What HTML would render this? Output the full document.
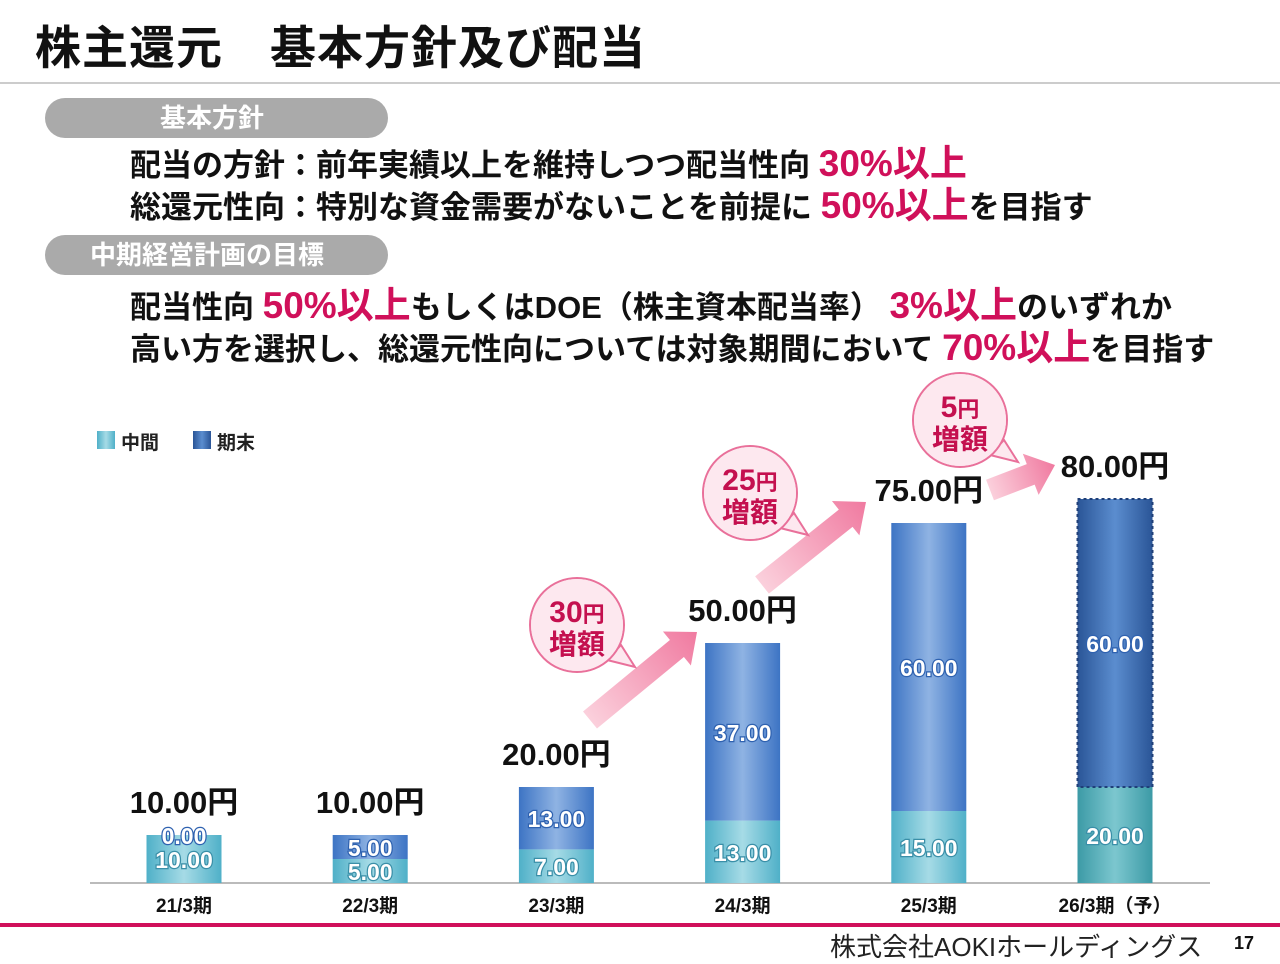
<!DOCTYPE html>
<html><head><meta charset="utf-8"><style>
body{margin:0;width:1280px;height:960px;background:#fff;position:relative;overflow:hidden;font-family:"Liberation Sans","Noto Sans CJK JP",sans-serif;}
.abs{position:absolute;white-space:nowrap}
.t{font-weight:bold;color:#111}
.pk{color:#d0105a}
.pill{position:absolute;left:45px;width:343px;height:40px;border-radius:20px;background:#aaa;color:#fff;font-weight:bold;font-size:26px;line-height:40px}
</style></head><body>
<div class="abs t" style="left:35px;top:12px;font-size:46px;letter-spacing:1px">株主還元　基本方針及び配当</div>
<div class="abs" style="left:0;top:82px;width:1280px;height:2px;background:#ccc"></div>
<div class="pill" style="top:98px;padding-left:115px;box-sizing:border-box">基本方針</div>
<div class="abs t" style="left:130px;top:133px;font-size:31px">配当の方針：前年実績以上を維持しつつ配当性向 <span class="pk" style="font-size:37px">30%以上</span></div>
<div class="abs t" style="left:130px;top:175px;font-size:31px">総還元性向：特別な資金需要がないことを前提に <span class="pk" style="font-size:37px">50%以上</span>を目指す</div>
<div class="pill" style="top:235px;padding-left:45px;box-sizing:border-box">中期経営計画の目標</div>
<div class="abs t" style="left:130px;top:275px;font-size:31px">配当性向 <span class="pk" style="font-size:37px">50%以上</span>もしくはDOE（株主資本配当率） <span class="pk" style="font-size:37px">3%以上</span>のいずれか</div>
<div class="abs t" style="left:130px;top:317px;font-size:31px">高い方を選択し、総還元性向については対象期間において <span class="pk" style="font-size:37px">70%以上</span>を目指す</div>

<svg class="abs" style="left:0;top:0" width="1280" height="960" id="chart">
<defs>
<linearGradient id="gI" x1="0" x2="1"><stop offset="0" stop-color="#4fb0c8"/><stop offset=".5" stop-color="#a6dbe6"/><stop offset="1" stop-color="#4fb0c8"/></linearGradient>
<linearGradient id="gE" x1="0" x2="1"><stop offset="0" stop-color="#3d74c4"/><stop offset=".5" stop-color="#8fb3e3"/><stop offset="1" stop-color="#3d74c4"/></linearGradient>
<linearGradient id="gF" x1="0" x2="1"><stop offset="0" stop-color="#2a5597"/><stop offset=".5" stop-color="#5b8dcf"/><stop offset="1" stop-color="#2a5597"/></linearGradient>
<linearGradient id="gFI" x1="0" x2="1"><stop offset="0" stop-color="#3c9aa6"/><stop offset=".5" stop-color="#7cc7cf"/><stop offset="1" stop-color="#3c9aa6"/></linearGradient>
<linearGradient id="gA" x1="0" x2="1"><stop offset="0" stop-color="#fbd0dc"/><stop offset="1" stop-color="#f07aa0"/></linearGradient>
</defs>
</svg>
<div class="abs" style="left:0;top:923px;width:1280px;height:4px;background:#d0105a"></div>
<div class="abs" style="left:830px;top:927px;font-size:26px;color:#222">株式会社AOKIホールディングス</div>
<div class="abs t" style="left:1234px;top:933px;font-size:18px">17</div>
<script>
const categories=["21/3期","22/3期","23/3期","24/3期","25/3期","26/3期（予）"];
const interim=[10,5,7,13,15,20];
const yearEnd=[0,5,13,37,60,60];
const totals=["10.00円","10.00円","20.00円","50.00円","75.00円","80.00円"];
const increases=[null,null,"30","25","5"];
const NS="http://www.w3.org/2000/svg";
const svg=document.getElementById('chart');
const base=883,scale=4.8,x0=184,step=186.2,bw=75;
const X=i=>x0+i*step, Y=v=>base-v*scale;
function el(t,a,p){const e=document.createElementNS(NS,t);for(const k in a)e.setAttribute(k,a[k]);(p||svg).appendChild(e);return e;}
function txt(x,y,s,size,fill,extra){const e=el('text',Object.assign({x:x,y:y,'font-size':size,'font-weight':'bold',fill:fill,'text-anchor':'middle','font-family':'"Liberation Sans","Noto Sans CJK JP",sans-serif'},extra||{}));e.textContent=s;return e;}
const ax=el('line',{x1:90,x2:1210,y1:base,y2:base,stroke:'#bbb','stroke-width':2});


const l1=el('rect',{x:97,y:431,width:18,height:18,fill:'url(#gI)'});


txt(140,449,'中間',19,'#222');
const l2=el('rect',{x:193,y:431,width:18,height:18,fill:'url(#gF)'});


txt(236,449,'期末',19,'#222');
const lab={'paint-order':'stroke','stroke-width':2.5};
categories.forEach((c,i)=>{
  const x=X(i), last=i===categories.length-1;
  const r1=el('rect',{x:x-bw/2,y:Y(interim[i]),width:bw,height:interim[i]*scale,fill:last?'url(#gFI)':'url(#gI)'});
  
  
  const tot=interim[i]+yearEnd[i];
  const r2=el('rect',{x:x-bw/2,y:Y(tot),width:bw,height:yearEnd[i]*scale,fill:last?'url(#gF)':'url(#gE)'});
  
  
  if(last){const d=el('rect',{x:x-bw/2,y:Y(tot),width:bw,height:yearEnd[i]*scale,fill:'none',stroke:'#1f3f78','stroke-width':2,'stroke-dasharray':'3 3'});}
  const small=tot*scale<60;
  let iy,ey;
  if(small){ if(yearEnd[i]===0){iy=base-15;ey=Y(tot)+9;} else {iy=base-3;ey=Y(tot)+21;} }
  else {iy=Y(interim[i]/2)+9; ey=Y(interim[i]+yearEnd[i]/2)+9;}
  txt(x,iy,interim[i].toFixed(2),23,'#fff',Object.assign({stroke:'#3a8fa8'},lab));
  txt(x,ey,yearEnd[i].toFixed(2),23,'#fff',Object.assign({stroke:'#2f62b0'},lab));
  txt(x,Y(tot)-22,totals[i],31,'#111');
  txt(x,912,c,19,'#111');
});
const arrows=[[590,720,697,632],[762,585,866,502],[990,490,1055,465]];
arrows.forEach((a,k)=>{
  const [x1,y1,x2,y2]=a,ang=Math.atan2(y2-y1,x2-x1),L=Math.hypot(x2-x1,y2-y1);
  const g=el('g',{transform:`translate(${x1},${y1}) rotate(${ang*180/Math.PI})`});
  
  
  el('polygon',{points:`0,-11 ${L-26},-11 ${L-26},-22 ${L},0 ${L-26},22 ${L-26},11 0,11`,fill:'url(#gA)'},g);
});
const bubbles=[[577,625,2],[750,493,3],[960,420,4]];
bubbles.forEach(b=>{
  const [cx,cy,i]=b;
  const g=el('g',{});
  
  
  el('path',{d:`M${cx+30},${cy+35} L${cx+58},${cy+42} L${cx+44},${cy+20} Z`,fill:'#fde8ef',stroke:'#e9709a','stroke-width':2},g);
  el('circle',{cx:cx,cy:cy,r:47,fill:'#fde8ef',stroke:'#e9709a','stroke-width':2},g);
  el('circle',{cx:cx,cy:cy,r:46,fill:'#fde8ef'},g);
  const t=txt(cx,cy-3,'',30,'#c4104f');
  const s1=document.createElementNS(NS,'tspan');s1.textContent=increases[i];t.appendChild(s1);
  const s2=document.createElementNS(NS,'tspan');s2.setAttribute('font-size','22');s2.textContent='円';t.appendChild(s2);
  txt(cx,cy+29,'増額',28,'#c4104f');
});
</script>
</body></html>
